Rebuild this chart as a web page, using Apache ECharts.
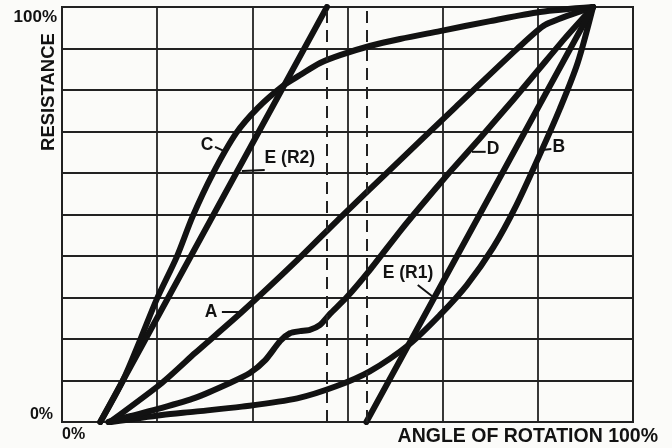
<!DOCTYPE html>
<html>
<head>
<meta charset="utf-8">
<script src="https://cdn.jsdelivr.net/npm/echarts@6/dist/echarts.min.js"></script>
<style>
    html, body { margin: 0; padding: 0; background: #fbfbf9; }
    #chart { width: 672px; height: 448px; }
</style>
</head>
<body>
<div id="chart"></div>
<script>
// 曲线数据: [旋转角度 %, 电阻 %]
const curveA = [[8.4, 0], [17.5, 9.4], [23.3, 16.6], [31.5, 26.5], [41.2, 39.0], [48.7, 49.2],
    [57.4, 60.7], [68.8, 75.7], [79.7, 89.9], [84.6, 95.7], [93.0, 100]];
const curveB = [[8.6, 0], [17.5, 1.7], [23.3, 2.5], [31.5, 3.7], [41.2, 5.7], [48.0, 8.6],
    [53.9, 12.2], [60.9, 18.8], [66.2, 25.8], [70.9, 33.0], [75.5, 42.0], [79.5, 52.0],
    [83.7, 64.5], [87.2, 75.5], [90.3, 86.5], [93.0, 100]];
const curveC = [[6.7, 0], [10.7, 10.1], [13.7, 19.8], [16.6, 29.6], [20.1, 39.8], [22.9, 49.6],
    [26.4, 59.8], [30.5, 69.6], [34.3, 75.7], [38.7, 81.0], [41.7, 83.6], [45.2, 86.5],
    [48.7, 88.4], [53.9, 90.6], [59.2, 92.3], [66.2, 94.2], [75.0, 96.6], [83.7, 98.8], [93.0, 100]];
const curveD = [[8.1, 0], [11.9, 1.4], [17.5, 3.4], [23.3, 5.8], [29.4, 9.4], [32.9, 11.8],
    [35.6, 14.9], [38.2, 19.5], [39.9, 21.4], [41.7, 21.9], [43.4, 22.2], [45.2, 23.4],
    [46.9, 26.0], [49.9, 30.1], [53.9, 36.6], [59.4, 46.3], [62.7, 51.8], [67.9, 60.2],
    [73.2, 68.4], [79.0, 77.6], [83.7, 85.3], [88.1, 92.5], [93.0, 100]];
const curveER2 = [[6.7, 0], [46.4, 100]];
const curveER1 = [[53.3, 0], [93.0, 100]];
// 虚线位置 (旋转角度 %)
const dashedAngles = [46.4, 53.3];

const FONT = 'Liberation Sans, Arial, sans-serif';
const INK = '#121212';

// 曲线标注: 文字位置与引线 (数据坐标)
const annotations = [
    { text: 'C', at: [25.4, 66.7], from: [26.8, 66.3], to: [28.7, 65.1] },
    { text: 'E (R2)', at: [39.9, 63.6], from: [35.5, 60.7], to: [31.5, 60.5] },
    { text: 'A', at: [26.1, 26.5], from: [28.0, 26.5], to: [31.5, 26.5] },
    { text: 'D', at: [75.5, 65.8], from: [74.2, 65.1], to: [71.8, 65.1] },
    { text: 'B', at: [87.0, 66.3], from: [85.7, 65.8], to: [83.7, 65.5] },
    { text: 'E (R1)', at: [60.6, 35.9], from: [62.3, 33.0], to: [65.0, 30.1] }
];

function curve(name, data, smooth) {
    return {
        name: name,
        type: 'line',
        data: data,
        smooth: smooth,
        symbol: 'none',
        silent: true,
        lineStyle: { color: INK, width: 6, cap: 'round', join: 'round' }
    };
}

const chart = echarts.init(document.getElementById('chart'));

const seriesER2 = curve('E (R2)', curveER2, false);
seriesER2.markLine = {
    silent: true,
    symbol: 'none',
    label: { show: false },
    lineStyle: { color: '#222', width: 2, type: [12, 7] },
    data: dashedAngles.map(function(v) { return { xAxis: v }; })
};

chart.setOption({
    animation: false,
    backgroundColor: '#fbfbf9',
    grid: {
        left: 62, right: 39, top: 7, bottom: 26,
        show: true,
        borderColor: '#1e1e1e',
        borderWidth: 2
    },
    xAxis: {
        type: 'value',
        min: 0,
        max: 100,
        interval: 100 / 6,
        axisLine: { show: false },
        axisTick: { show: false },
        axisLabel: { show: false },
        splitLine: { lineStyle: { color: '#222', width: 1.8 } }
    },
    yAxis: {
        type: 'value',
        min: 0,
        max: 100,
        interval: 10,
        axisLine: { show: false },
        axisTick: { show: false },
        axisLabel: { show: false },
        splitLine: { lineStyle: { color: '#222', width: 1.8 } }
    },
    series: [
        curve('A', curveA, 0.2),
        curve('B', curveB, 0.3),
        curve('C', curveC, 0.3),
        curve('D', curveD, 0.2),
        seriesER2,
        curve('E (R1)', curveER1, false)
    ]
});

// 轴文字与曲线标注
const boldText = function(x, y, text, size, align, rotation) {
    return {
        type: 'text', x: x, y: y, rotation: rotation || 0, silent: true, z: 100,
        style: {
            text: text, fill: INK, font: 'bold ' + size + 'px ' + FONT,
            align: align, verticalAlign: 'middle'
        }
    };
};

const graphics = [
    boldText(57, 17, '100%', 17, 'right'),
    boldText(53, 415, '0%', 16, 'right'),
    boldText(49, 92, 'RESISTANCE', 18.5, 'center', Math.PI / 2),
    boldText(62, 435, '0%', 16, 'left'),
    boldText(658, 437, 'ANGLE OF ROTATION 100%', 19.5, 'right')
];

annotations.forEach(function(a) {
    const p = chart.convertToPixel({ gridIndex: 0 }, a.at);
    const f = chart.convertToPixel({ gridIndex: 0 }, a.from);
    const t = chart.convertToPixel({ gridIndex: 0 }, a.to);
    graphics.push({
        type: 'line', silent: true, z: 100,
        shape: { x1: f[0], y1: f[1], x2: t[0], y2: t[1] },
        style: { stroke: INK, lineWidth: 2 }
    });
    graphics.push(boldText(p[0], p[1], a.text, 17.5, 'center'));
});

chart.setOption({ graphic: graphics });
</script>
</body>
</html>
